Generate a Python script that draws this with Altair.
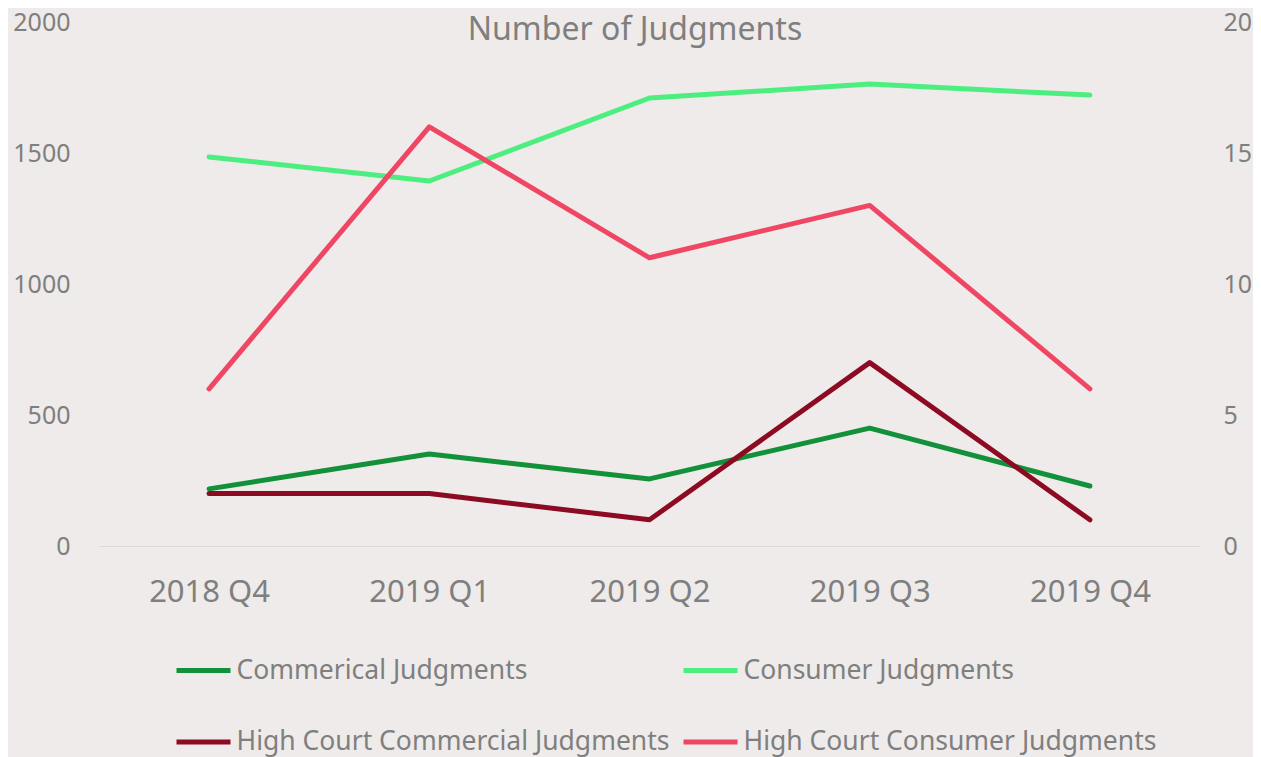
import altair as alt
import pandas as pd

quarters = ["2018 Q4", "2019 Q1", "2019 Q2", "2019 Q3", "2019 Q4"]
commercial = [218, 351, 256, 450, 229]
consumer = [1485, 1393, 1710, 1763, 1721]
hc_commercial = [2, 2, 1, 7, 1]
hc_consumer = [6, 16, 11, 13, 6]

series_names = [
    "Commerical Judgments",
    "Consumer Judgments",
    "High Court Commercial Judgments",
    "High Court Consumer Judgments",
]
series_colors = ["#12903A", "#4BEE7F", "#8C0A22", "#EF4763"]
left_ticks = [0, 500, 1000, 1500, 2000]
right_ticks = [0, 5, 10, 15, 20]
title_text = "Number of Judgments"

rows = []
for name, vals, side in [
    (series_names[0], commercial, "left"),
    (series_names[1], consumer, "left"),
    (series_names[2], hc_commercial, "right"),
    (series_names[3], hc_consumer, "right"),
]:
    for q, v in zip(quarters, vals):
        rows.append({"quarter": q, "series": name, "value": v, "side": side})
df = pd.DataFrame(rows)

FONT = "Noto Sans"
GREY = "#7F7F7F"

color = alt.Color(
    "series:N",
    scale=alt.Scale(domain=series_names, range=series_colors),
    legend=alt.Legend(
        orient="none",
        direction="horizontal",
        legendX=75,
        legendY=619,
        columns=2,
        columnPadding=3,
        rowPadding=28.5,
        symbolType="stroke",
        symbolSize=2916,
        symbolStrokeWidth=5,
        labelFontSize=26.5,
        labelColor=GREY,
        labelFont=FONT,
        labelOffset=3.5,
        labelLimit=0,
        padding=0,
        title=None,
    ),
)

x = alt.X(
    "quarter:N",
    sort=quarters,
    title=None,
    axis=alt.Axis(
        labelAngle=0,
        labelFontSize=31,
        labelColor=GREY,
        labelFont=FONT,
        labelPadding=31,
        ticks=False,
        grid=False,
        domainColor="#D9D9D9",
        domainWidth=1,
    ),
)

base = alt.Chart(df)
line_style = dict(strokeWidth=5, strokeCap="round", strokeJoin="round")

left = base.transform_filter(alt.datum.side == "left").mark_line(**line_style).encode(
    x=x,
    y=alt.Y(
        "value:Q",
        scale=alt.Scale(domain=[0, 2000]),
        title=None,
        axis=alt.Axis(
            orient="left", values=left_ticks, format="d", grid=False, domain=False,
            ticks=False, labelFontSize=25, labelColor=GREY, labelFont=FONT, labelPadding=29,
        ),
    ),
    color=color,
)

right = base.transform_filter(alt.datum.side == "right").mark_line(**line_style).encode(
    x=x,
    y=alt.Y(
        "value:Q",
        scale=alt.Scale(domain=[0, 20]),
        title=None,
        axis=alt.Axis(
            orient="right", values=right_ticks, format="d", grid=False, domain=False,
            ticks=False, labelFontSize=25, labelColor=GREY, labelFont=FONT, labelPadding=23,
        ),
    ),
    color=color,
)

title = alt.Chart(pd.DataFrame({"t": [title_text]})).mark_text(
    font=FONT, fontSize=32, color=GREY, align="center", baseline="alphabetic"
).encode(text="t:N", x=alt.value(536), y=alt.value(18))

chart = (
    alt.layer(left, right, title)
    .resolve_scale(y="independent")
    .properties(
        width=1101,
        height=524,
        autosize=alt.AutoSizeParams(type="none"),
        padding={"left": 91, "top": 14, "right": 53, "bottom": 211},
        background="#EEEBEA",
    )
    .configure_view(stroke=None)
)

chart.save("out.html", embed_options={"renderer": "svg", "actions": False})
